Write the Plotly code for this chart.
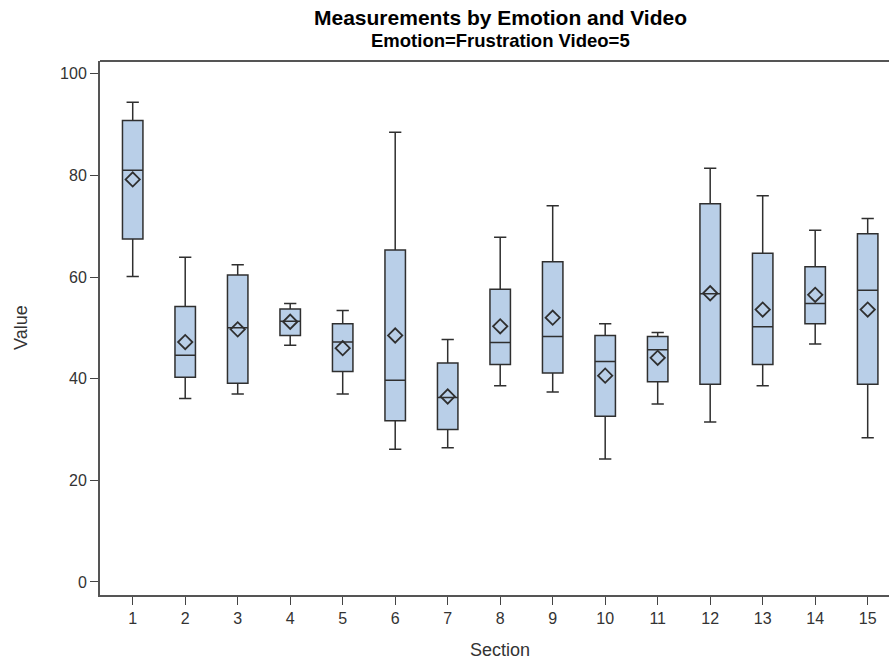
import plotly.graph_objects as go

sections = list(range(1, 16))
q1 = [67.5, 40.3, 39.1, 48.5, 41.4, 31.7, 30.0, 42.8, 41.1, 32.6, 39.4, 38.9, 42.8, 50.8, 38.9]
median = [81.0, 44.6, 50.0, 51.3, 47.2, 39.7, 36.3, 47.1, 48.3, 43.4, 45.7, 56.7, 50.2, 54.8, 57.4]
q3 = [90.8, 54.2, 60.4, 53.7, 50.8, 65.3, 43.1, 57.6, 63.0, 48.5, 48.3, 74.4, 64.7, 62.0, 68.5]
lower = [60.1, 36.1, 37.0, 46.6, 37.0, 26.1, 26.4, 38.6, 37.4, 24.2, 35.0, 31.5, 38.6, 46.8, 28.4]
upper = [94.4, 63.9, 62.4, 54.8, 53.4, 88.5, 47.7, 67.8, 74.0, 50.8, 49.1, 81.4, 76.0, 69.2, 71.5]
means = [79.2, 47.2, 49.7, 51.2, 46.0, 48.5, 36.5, 50.3, 52.0, 40.6, 44.1, 56.8, 53.6, 56.5, 53.6]
y_ticks = [0, 20, 40, 60, 80, 100]

W, H = 889, 661
L, R, T, B = 100, 0, 61, 66
PW, PH = W - L - R, H - T - B

FONT = "Liberation Sans, Arial, sans-serif"

fig = go.Figure()
fig.add_trace(go.Box(
    x=sections, q1=q1, median=median, q3=q3,
    lowerfence=lower, upperfence=upper,
    width=0.39, whiskerwidth=0.6,
    fillcolor="#B9CFE8",
    line=dict(color="#2f2f2f", width=1.5),
    boxpoints=False, showlegend=False,
))
fig.add_trace(go.Scatter(
    x=sections, y=means, mode="markers",
    marker=dict(symbol="diamond-open", size=11, color="#2f2f2f",
                line=dict(color="#2f2f2f", width=1.8)),
    showlegend=False,
))

fig.update_layout(
    width=W, height=H,
    margin=dict(l=L, r=R, t=T, b=B),
    plot_bgcolor="white", paper_bgcolor="white",
    font=dict(family=FONT, size=16, color="#333333"),
    showlegend=False,
)
fig.update_xaxes(
    range=[0.377, 15.406], tickmode="array", tickvals=sections,
    ticktext=[str(s) for s in sections],
    ticks="outside", ticklen=8, tickcolor="#444444", tickwidth=1.2,
    showline=True, linecolor="#555555", linewidth=2,
    showgrid=False, zeroline=False,
    tickfont=dict(family=FONT, size=16, color="#333333"),
)
fig.update_yaxes(
    range=[-2.56, 102.5], tickmode="array", tickvals=y_ticks,
    ticks="outside", ticklen=8, tickcolor="#444444", tickwidth=1.2,
    showline=True, linecolor="#555555", linewidth=2,
    showgrid=False, zeroline=False,
    tickfont=dict(family=FONT, size=16, color="#333333"),
)
# top frame line
fig.add_shape(type="line", xref="paper", yref="paper", x0=0, x1=1, y0=1, y1=1,
              line=dict(color="#555555", width=2))

def px_x(px):
    return (px - L) / PW

def px_y(py):
    return (H - B - py) / PH

# axis titles
fig.add_annotation(text="Section", xref="paper", yref="paper",
                   x=px_x(500), y=px_y(650), showarrow=False,
                   xanchor="center", yanchor="middle",
                   font=dict(family=FONT, size=18, color="#333333"))
fig.add_annotation(text="Value", xref="paper", yref="paper",
                   x=px_x(21), y=px_y(328), showarrow=False, textangle=-90,
                   xanchor="center", yanchor="middle",
                   font=dict(family=FONT, size=18, color="#333333"))

# titles
fig.add_annotation(text="<b>Measurements by Emotion and Video</b>", xref="paper", yref="paper",
                   x=px_x(500), y=px_y(18), showarrow=False,
                   xanchor="center", yanchor="middle",
                   font=dict(family=FONT, size=21, color="#000000"))
fig.add_annotation(text="<b>Emotion=Frustration Video=5</b>", xref="paper", yref="paper",
                   x=px_x(500), y=px_y(40), showarrow=False,
                   xanchor="center", yanchor="middle",
                   font=dict(family=FONT, size=18.5, color="#000000"))

fig.write_html("out.html", config={"displayModeBar": False},
               post_script="document.body.style.margin='0';document.body.style.padding='0';document.body.style.overflow='hidden';")
